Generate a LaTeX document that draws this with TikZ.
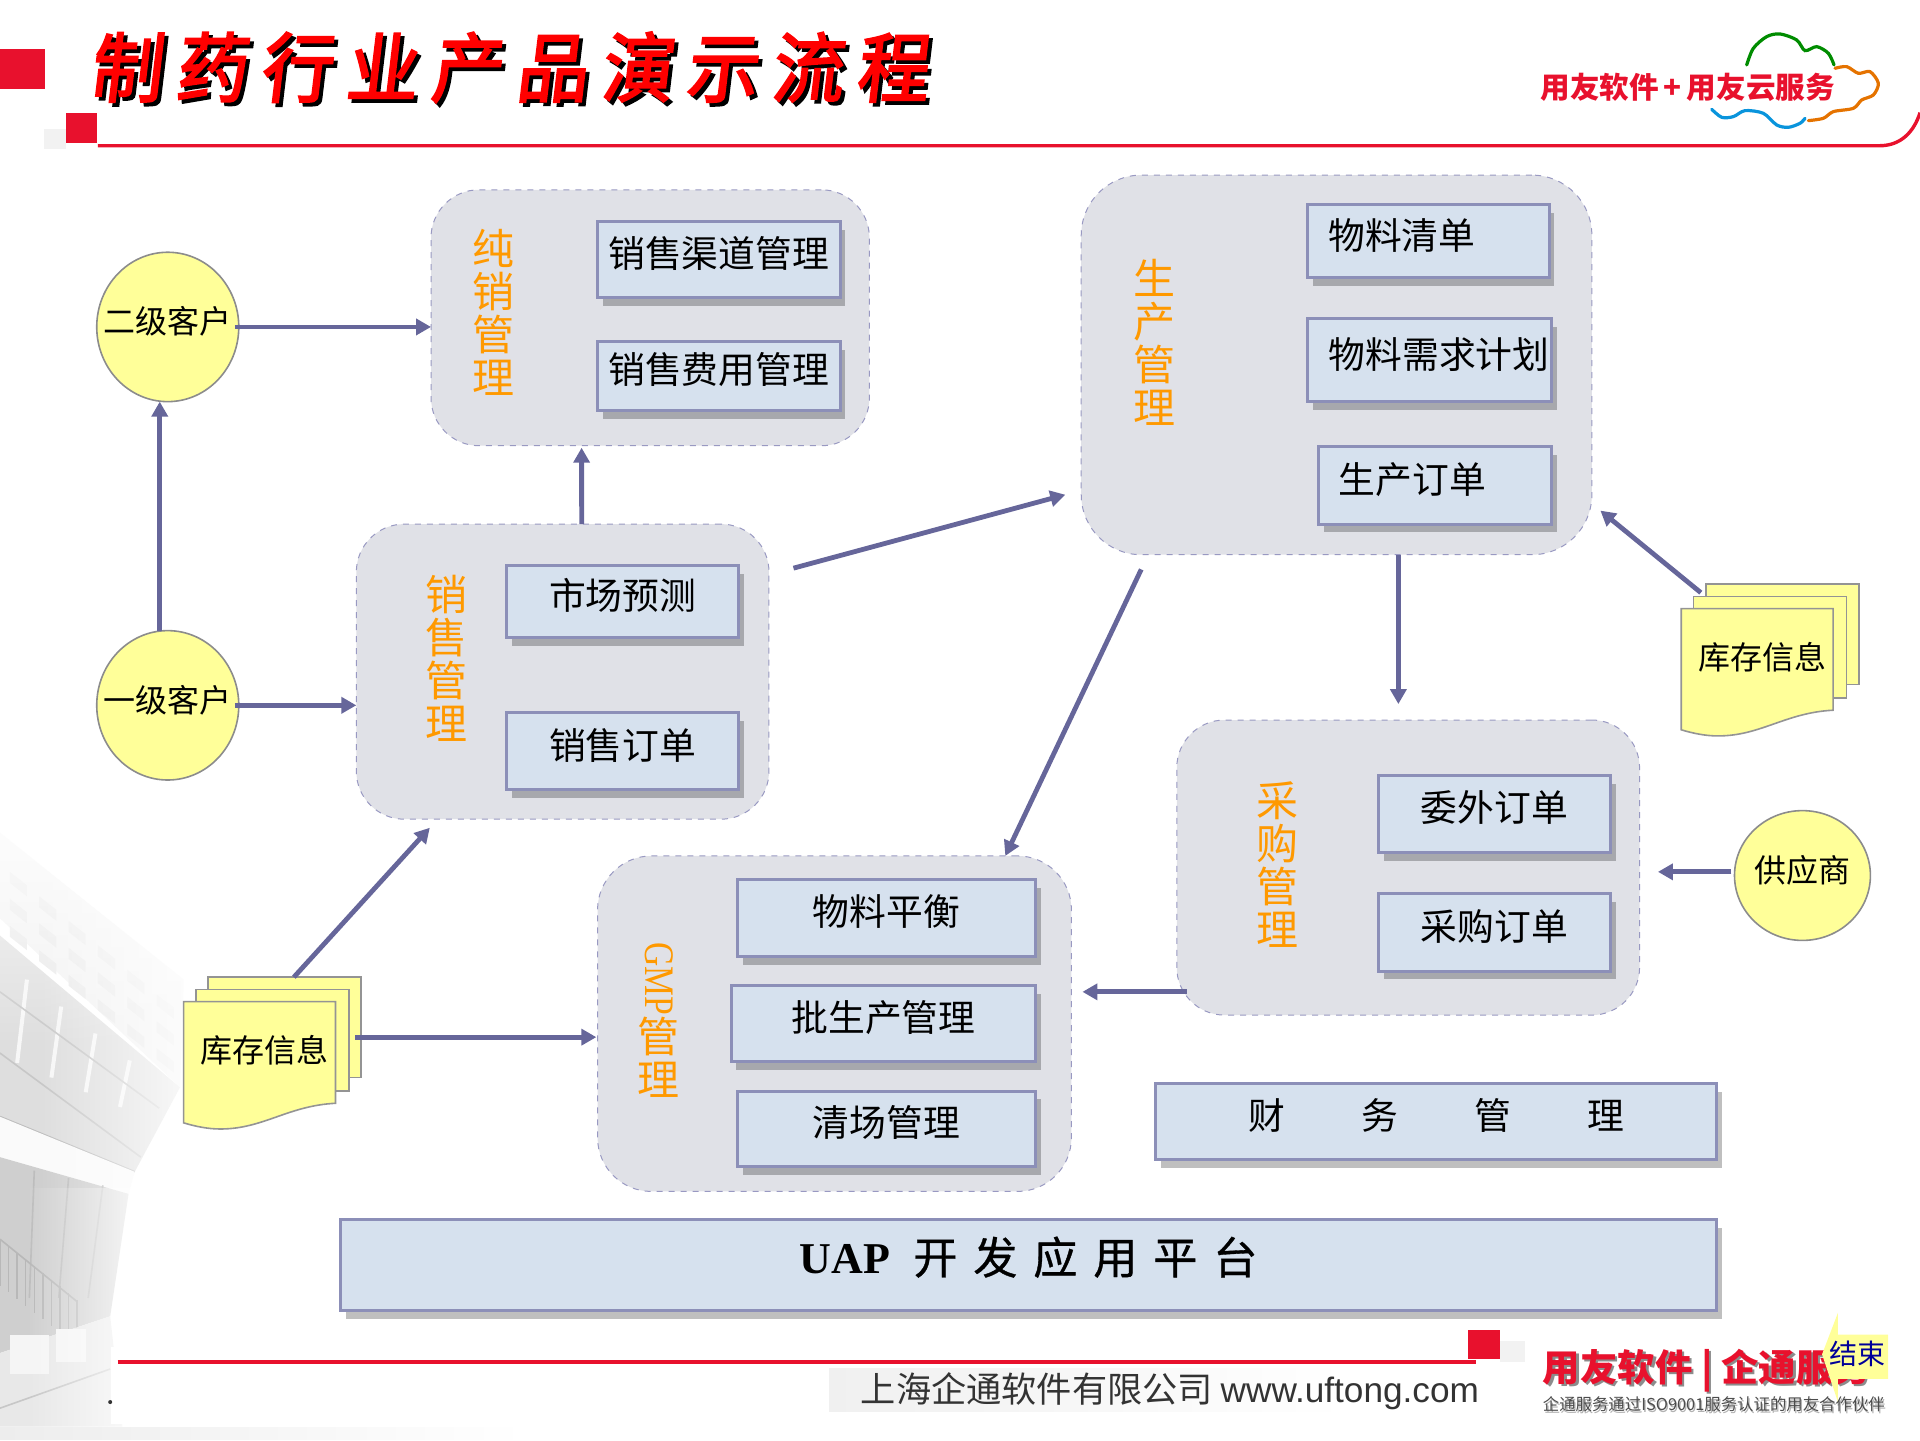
\documentclass[tikz,border=0pt]{standalone}
\usepackage{fontspec}
\setmainfont{Noto Sans CJK SC}
\newfontfamily\serifrm{Liberation Serif}
\newfontfamily\arialrm{Liberation Sans}
\newfontfamily\titlefont[LetterSpace=17,FakeSlant=0.12,FakeBold=2.5,FakeStretch=0.95]{Noto Sans CJK SC}
\newfontfamily\uapfont[FakeBold=0.8]{Noto Sans CJK SC}
\usetikzlibrary{shapes,shadows,arrows.meta,fadings}
\definecolor{redmark}{HTML}{E8112D}
\definecolor{flowblue}{HTML}{66669A}
\definecolor{boxline}{HTML}{8C8FB8}
\definecolor{boxfill}{HTML}{D6E1EE}
\definecolor{groupfill}{HTML}{E0E1E7}
\definecolor{groupline}{HTML}{9999C2}
\definecolor{paper}{HTML}{FFFF99}
\definecolor{orangeword}{HTML}{FF9900}
\tikzset{
  sized/.style 2 args={minimum width=#1*0.61224pt,minimum height=#2*0.61224pt},
  docsheets/.pic={
    \draw[sheet] (20,-20) rectangle (145,62);
    \draw[sheet] (10,-10) rectangle (135,73);
    \draw[sheet] (0,0) -- (124,0) -- (124,83) .. controls (85,85) and (65,104) .. (30,104)
      .. controls (20,104) and (10,102) .. (0,99) -- cycle;
  }
}
\begin{document}
\begin{tikzpicture}[x=0.61224pt, y=-0.61224pt, >={Triangle[length=7.5pt,width=8pt]},
        every node/.append style={outer sep=0pt}]
      \useasboundingbox (0,0) rectangle (1568,1176);
      \tikzstyle{group} = [rectangle, rounded corners=24pt, fill=groupfill, draw=groupline,
        line width=0.5pt, dashed, inner sep=0pt]
      \tikzstyle{item} = [rectangle, fill=boxfill, draw=boxline, line width=1.5pt, inner sep=0pt,
        font=\fontsize{18.4}{20}\selectfont, text height=16pt, text depth=8pt,
        drop shadow={shadow xshift=2.7pt, shadow yshift=-4.2pt, fill=black, opacity=0.25}]
      \tikzstyle{word} = [font=\fontsize{21}{21.4}\selectfont, color=orangeword, align=center, inner sep=0pt]
      \tikzstyle{client} = [ellipse, fill=paper, draw=black!45, line width=0.8pt, inner sep=0pt,
        font=\fontsize{16}{18}\selectfont, text height=14pt, text depth=7pt]
      \tikzstyle{sheet} = [fill=paper, draw=black!42, line width=0.8pt]
      \tikzstyle{flow} = [->, color=flowblue, line width=2.4pt]

      % building behind the page
      \fill[black!5] (0,680) -- (150,800) -- (147,888) -- (0,750) -- cycle;
      \foreach \i in {0,1,...,5}
        \foreach \j in {0,1,2}
          \fill[black!9] (8+\i*24,712+\i*20+\j*22) -- +(14,11) -- +(14,20) -- +(0,9) -- cycle;
      \fill[black!13] (0,764) -- (147,888) -- (110,957) -- (0,912) -- cycle;
      \foreach \i in {0,1,2,3}
        \draw[black!3, line width=2pt] (22+\i*28,800+\i*22) -- (14+\i*28,868+\i*12);
      \draw[black!22, line width=0.8pt] (0,810) -- (130,905);
      \draw[black!22, line width=0.8pt] (0,860) -- (115,945);
      \draw[black!26, line width=1pt] (0,912) -- (110,957);
      \fill[black!2] (0,912) -- (110,957) -- (105,975) -- (0,945) -- cycle;
      \fill[black!19] (0,945) -- (105,975) -- (90,1075) -- (0,1105) -- cycle;
      \foreach \i in {1,2,3}
        \draw[black!26, line width=0.8pt] (\i*28,950+\i*6) -- (\i*24,1060);
      \foreach \i in {0,1,...,9}
        \draw[black!28, line width=0.7pt] (\i*7,1012+\i*5.5) -- (\i*7,1050+\i*5.5);
      \draw[black!28, line width=0.8pt] (0,1012) -- (63,1063);
      \fill[black!9] (0,1105) -- (90,1075) -- (100,1165) -- (0,1165) -- cycle;
      \fill[black!4] (8,1090) rectangle (40,1122);
      \fill[black!4] (46,1085) rectangle (70,1112);
      \draw[black!22, line width=0.8pt] (0,1150) -- (90,1118);
      \fill[white, path fading=west] (32,650) rectangle (182,970);
      \fill[white, path fading=west] (22,970) rectangle (132,1165);
      \fill[white, path fading=south] (0,635) rectangle (182,855);
      \fill[white] (91,1100) rectangle (400,1163);
      \fill[black!7, path fading=east] (0,1165) rectangle (430,1176);

      % page head
      \fill[redmark] (0,40) rectangle (37,73);
      \fill[black!5] (36,105) rectangle (54,122);
      \fill[redmark] (54,92) rectangle (79,117);
      \draw[redmark, line width=1.7pt] (80,119) -- (1535,119) .. controls (1552,119) and (1563,108) .. (1568,92);
      \node (titleback) [anchor=west, inner sep=0pt, font=\titlefont\fontsize{38}{38}\selectfont, color=black] at (76,58) {制药行业产品演示流程};
      \node (title) [anchor=west, inner sep=0pt, font=\titlefont\fontsize{38}{38}\selectfont, color=red] at (73,55) {制药行业产品演示流程};

      % cloud logo
      \node (cloudname) [anchor=west, inner sep=0pt, font=\fontsize{14.8}{16}\bfseries\selectfont, color=redmark] at (1258,71) {用友软件\hspace{2.5pt}+\hspace{2.5pt}用友云服务};
      \begin{scope}[shift={(1225,16.3)}, x=0.16667pt, y=-0.16667pt, line width=1.6pt, line cap=round]
        \draw[color=green!55!black] plot[smooth] coordinates {(740,135) (760,85) (800,50) (840,42) (890,60) (915,92) (950,80) (985,100) (1002,135)};
        \draw[color=orange!90!black] plot[smooth] coordinates {(1005,145) (1040,140) (1075,160) (1110,155) (1135,190) (1120,225) (1085,240) (1060,265) (1000,275) (970,295) (925,302)};
        \draw[color=cyan!80!blue] plot[smooth] coordinates {(635,268) (665,292) (700,290) (735,272) (790,280) (830,315) (865,322) (900,310) (915,295)};
      \end{scope}

      % groups
      \node (retail) [group, sized={358}{209}] at (531,259.5) {};
      \node (produce) [group, sized={417}{310}, rounded corners=30pt] at (1091.5,298) {};
      \node (sales) [group, sized={337}{241}] at (459.5,548.5) {};
      \node (purchase) [group, sized={378}{241}] at (1150,708.5) {};
      \node (gmp) [group, sized={387}{274}, rounded corners=27pt] at (681.5,836) {};

      \node (retailword) [word] at (403,255) {纯\\销\\管\\理};
      \node (produceword) [word] at (943,279.5) {生\\产\\管\\理};
      \node (salesword) [word] at (365,537.5) {销\\售\\管\\理};
      \node (purchaseword) [word] at (1043.5,706) {采\\购\\管\\理};
      \node (gmpword) [word] at (538,833) {\rotatebox{-90}{\scalebox{0.8}[1]{\serifrm GMP}}\\管\\理};

      % items
      \node (channel) [item, sized={198}{62}] at (587,212) {销售渠道管理};
      \node (expense) [item, sized={198}{56}] at (587,307) {销售费用管理};
      \node (bom) [item, sized={197}{60}, align=left, text width=100pt] at (1166.5,197) {物料清单};
      \node (mrp) [item, sized={199}{68}, align=left, text width=101pt] at (1167.5,294) {物料需求计划};
      \node (mporder) [item, sized={190}{63}, align=left, text width=96.5pt] at (1172,396.5) {生产订单};
      \node (forecast) [item, sized={189}{59}] at (508.5,491.5) {市场预测};
      \node (salesorder) [item, sized={189}{63}] at (508.5,613.5) {销售订单};
      \node (outsource) [item, sized={189}{63}] at (1220.5,664.5) {委外订单};
      \node (purorder) [item, sized={189}{63}] at (1220.5,761.5) {采购订单};
      \node (balance) [item, sized={244}{63}] at (724,749.5) {物料平衡};
      \node (batch) [item, sized={249}{62}] at (721.5,836) {批生产管理};
      \node (clean) [item, sized={244}{62}] at (724,922) {清场管理};
      \node (finance) [item, sized={458}{62}] at (1173,916) {财\hspace{38pt}务\hspace{38pt}管\hspace{38pt}理};
      \node (uap) [item, sized={1124}{74}, font=\uapfont\fontsize{22}{24}\selectfont, text height=19pt, text depth=10pt] at (840,1033)
        {{\serifrm\bfseries UAP}\hspace{11.6pt}开\hspace{8pt}发\hspace{8pt}应\hspace{8pt}用\hspace{8pt}平\hspace{8pt}台};

      % clients
      \node (second) [client, sized={116}{122}] at (137,267) {\makebox[0pt]{二级客户}};
      \node (first) [client, sized={116}{122}] at (137,576) {\makebox[0pt]{一级客户}};
      \node (supplier) [client, sized={111}{106}] at (1472,715) {\makebox[0pt]{供应商}};

      % stock papers
      \pic at (150,818) {docsheets};
      \pic at (1373,497) {docsheets};
      \node (stockleft) [font=\fontsize{16}{18}\selectfont, inner sep=0pt] at (216,858) {库存信息};
      \node (stockright) [font=\fontsize{16}{18}\selectfont, inner sep=0pt] at (1439,537) {库存信息};

      % free ends of the connectors
      \coordinate (salesout) at (648,464);
      \coordinate (producein) at (870,404);
      \coordinate (producedown) at (1142,453);
      \coordinate (purchasein) at (1142,575);
      \coordinate (produceout) at (932,465);
      \coordinate (gmpin) at (821,699);
      \coordinate (stockout) at (1389,484);
      \coordinate (producein2) at (1307,417);
      \coordinate (supplierout) at (1414,712);
      \coordinate (purchasein2) at (1354,712);
      \coordinate (purchaseout) at (969,810);
      \coordinate (gmpin2) at (884,810);
      \coordinate (stockup) at (240,798);
      \coordinate (salesin) at (351,676);
      \coordinate (stockside) at (290,847);
      \coordinate (gmpin3) at (487,847);

      \draw[flow] ([xshift=-2pt]second.east) -- (second.east -| retail.west);
      \draw[flow] ([xshift=-4pt]first.north) -- ([xshift=-4pt]second.south);
      \draw[flow] ([xshift=-2pt]first.east) -- (first.east -| sales.west);
      \draw[flow] ([xshift=9.5pt]sales.north) -- ([xshift=-34.3pt, yshift=-1pt]retail.south);
      \draw[flow] (salesout) -- (producein);
      \draw[flow] (producedown) -- (purchasein);
      \draw[flow] (produceout) -- (gmpin);
      \draw[flow] (stockout) -- (producein2);
      \draw[flow] (supplierout) -- (purchasein2);
      \draw[flow] (purchaseout) -- (gmpin2);
      \draw[flow] (stockup) -- (salesin);
      \draw[flow] (stockside) -- (gmpin3);

      % page foot
      \fill[black!6, path fading=east] (677,1117) rectangle (1100,1153);
      \fill[black!5] (1225,1095) rectangle (1245,1112);
      \draw[redmark, line width=2pt] (96,1112) -- (1205,1112);
      \fill[redmark] (1199,1086) rectangle (1225,1110);
      \fill[black!80] (90,1145) circle (1pt);
      \node (company) [anchor=west, inner sep=0pt, color=black!80, font=\fontsize{17.6}{20}\selectfont] at (703,1136) {上海企通软件有限公司 {\arialrm www.uftong.com}};
      \node (brandback) [anchor=west, inner sep=0pt, color=black!45, font=\fontsize{18.7}{20}\bfseries\selectfont] at (1262,1121) {用友软件 | 企通服务};
      \node (brand) [anchor=west, inner sep=0pt, color=redmark, font=\fontsize{18.7}{20}\bfseries\selectfont] at (1260,1119) {用友软件 | 企通服务};
      \node (partnerback) [anchor=west, inner sep=0pt, color=black!30, font=\fontsize{8.2}{10}\selectfont] at (1261,1148) {企通服务通过ISO9001服务认证的用友合作伙伴};
      \node (partner) [anchor=west, inner sep=0pt, color=black!70, font=\fontsize{8.2}{10}\selectfont] at (1260,1147) {企通服务通过ISO9001服务认证的用友合作伙伴};

      % end button
      \fill[paper] (1501,1072) -- (1488,1106) -- (1501,1145) -- (1501,1126) -- (1542,1126) -- (1542,1090) -- (1501,1090) -- cycle;
      \node (endmark) [inner sep=0pt, color=blue!60!black, font=\fontsize{14}{16}\selectfont] at (1517,1106) {结束};
    \end{tikzpicture}
\end{document}
